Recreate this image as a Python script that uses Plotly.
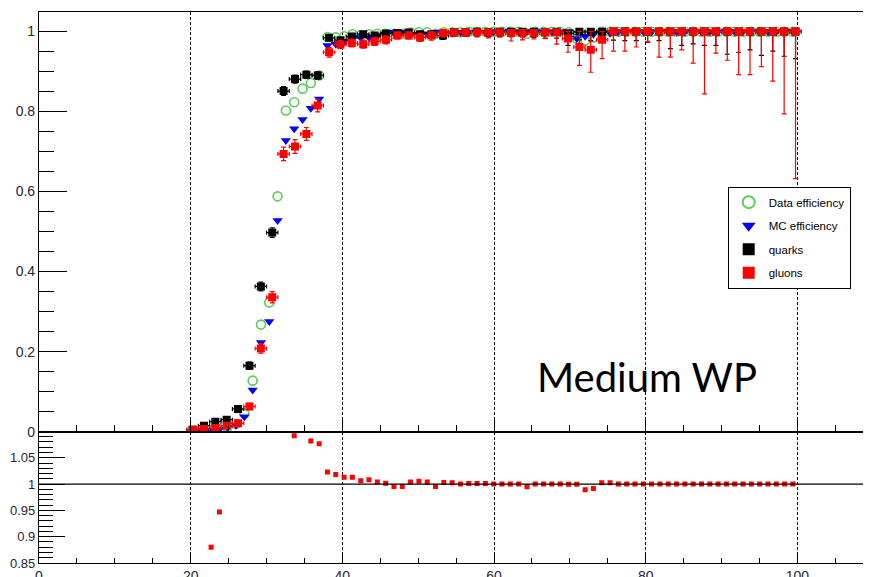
import plotly.graph_objects as go

# ---------------- data ----------------
# quarks / gluons binning (top panel)
x_qg = [20.25, 21.75, 23.25, 24.75, 26.25, 27.75, 29.25, 30.75, 32.25, 33.75,
        35.25, 36.75, 38.25, 39.75, 41.25, 42.75, 44.25, 45.75, 47.25, 48.75,
        50.25, 51.75, 53.25, 54.75, 56.25, 57.75, 59.25, 60.75, 62.25, 63.75,
        65.25, 66.75, 68.25, 69.75, 71.25, 72.75, 74.25, 75.75, 77.25, 78.75,
        80.25, 81.75, 83.25, 84.75, 86.25, 87.75, 89.25, 90.75, 92.25, 93.75,
        95.25, 96.75, 98.25, 99.75]

quarks = [0.005, 0.015, 0.025, 0.030, 0.057, 0.165, 0.363, 0.4975, 0.851, 0.881,
          0.892, 0.890, 0.984, 0.978, 0.987, 0.993, 0.990, 0.995, 0.996, 0.997,
          0.993, 0.993, 0.990, 0.998, 0.998, 0.999, 0.998, 0.999, 0.999, 0.999,
          0.999, 0.998, 0.999, 0.995, 0.999, 0.999, 0.999, 1.0, 1.0, 1.0,
          1.0, 1.0, 1.0, 1.0, 1.0, 1.0, 1.0, 1.0, 1.0, 1.0,
          1.0, 1.0, 1.0, 1.0]
quarks_err = [0.004, 0.005, 0.006, 0.006, 0.007, 0.009, 0.011, 0.012, 0.011, 0.010,
              0.009, 0.009, 0.006, 0.006, 0.006, 0.006, 0.006, 0.007, 0.007, 0.007,
              0.008, 0.008, 0.010, 0.010, 0.010, 0.011, 0.011, 0.012, 0.012, 0.013,
              0.014, 0.015, 0.016, 0.030, 0.020, 0.022, 0.020, 0.022, 0.023, 0.023,
              0.027, 0.023, 0.043, 0.035, 0.031, 0.035, 0.035, 0.057, 0.052, 0.046,
              0.060, 0.049, 0.062, 0.068]

gluons = [0.005, 0.007, 0.009, 0.015, 0.021, 0.063, 0.208, 0.336, 0.694, 0.7125,
          0.744, 0.815, 0.948, 0.967, 0.971, 0.968, 0.975, 0.979, 0.990, 0.990,
          0.985, 0.990, 0.996, 0.998, 0.998, 0.998, 0.998, 0.998, 0.996, 0.996,
          0.996, 0.998, 0.998, 0.982, 0.961, 0.954, 0.979, 1.0, 1.0, 1.0,
          1.0, 1.0, 1.0, 1.0, 1.0, 1.0, 1.0, 1.0, 1.0, 1.0,
          1.0, 1.0, 1.0, 1.0]
gluons_err = [0.004, 0.004, 0.004, 0.005, 0.006, 0.008, 0.012, 0.014, 0.017, 0.017,
              0.016, 0.016, 0.012, 0.010, 0.010, 0.010, 0.010, 0.010, 0.009, 0.009,
              0.010, 0.012, 0.010, 0.010, 0.010, 0.012, 0.014, 0.012, 0.020, 0.017,
              0.015, 0.016, 0.030, 0.034, 0.046, 0.056, 0.047, 0.049, 0.049, 0.039,
              0.025, 0.064, 0.064, 0.046, 0.079, 0.156, 0.054, 0.072, 0.108, 0.108,
              0.088, 0.124, 0.206, 0.368]

# data / MC binning
x_eff = [20.50, 21.60, 22.69, 23.79, 24.88, 25.98, 27.08, 28.17, 29.27, 30.36,
         31.46, 32.55, 33.65, 34.75, 35.84, 36.94, 38.03, 39.13, 40.23, 41.32,
         42.42, 43.51, 44.61, 45.71, 46.80, 47.90, 48.99, 50.09, 51.19, 52.28,
         53.38, 54.47, 55.57, 56.66, 57.76, 58.86, 59.95, 61.05, 62.14, 63.24,
         64.34, 65.43, 66.53, 67.62, 68.72, 69.82, 70.91, 72.01, 73.10, 74.20,
         75.30, 76.39, 77.49, 78.58, 79.68, 80.77, 81.87, 82.97, 84.06, 85.16,
         86.25, 87.35, 88.45, 89.54, 90.64, 91.73, 92.83, 93.93, 95.02, 96.12,
         97.21, 98.31, 99.40]

data_eff = [0.002, 0.003, 0.0035, 0.0057, 0.012, 0.020, 0.045, 0.1275, 0.2675, 0.323,
            0.588, 0.8025, 0.823, 0.857, 0.871, 0.890, 0.986, 0.985, 0.988, 0.993,
            0.991, 0.993, 0.994, 0.994, 0.994, 0.994, 0.997, 0.998, 0.998, 0.994,
            0.998, 0.998, 0.998, 0.999, 0.999, 0.999, 0.999, 0.999, 0.999, 0.999,
            0.994, 0.999, 0.999, 0.999, 0.999, 0.998, 0.982, 0.977, 0.985, 0.999,
            0.999, 0.999, 0.999, 0.999, 0.999, 0.999, 0.999, 0.999, 0.999, 0.999,
            0.999, 0.999, 0.999, 0.999, 0.999, 0.999, 0.999, 0.999, 0.999, 0.999,
            0.999, 0.999, 0.999]

mc_eff = [0.001, 0.002, 0.004, 0.006, 0.010, 0.016, 0.0375, 0.104, 0.223, 0.275,
          0.5275, 0.7275, 0.757, 0.780, 0.808, 0.831, 0.965, 0.968, 0.975, 0.980,
          0.985, 0.985, 0.990, 0.993, 0.998, 0.998, 0.993, 0.992, 0.994, 0.998,
          0.995, 0.996, 0.998, 0.998, 0.998, 0.998, 0.999, 0.999, 0.999, 0.999,
          0.999, 0.999, 0.999, 0.999, 0.999, 0.999, 0.982, 0.988, 0.993, 0.996,
          0.996, 0.999, 0.999, 0.999, 0.999, 0.999, 0.999, 0.999, 0.999, 0.999,
          0.999, 0.999, 0.999, 0.999, 0.999, 0.999, 0.999, 0.999, 0.999, 0.999,
          0.999, 0.999, 0.999]

ratio = [None, None, 0.880, 0.947, None, None, None, None, None, None,
         None, None, 1.092, None, 1.082, 1.0765, 1.0228, 1.018, 1.013, 1.013,
         1.0063, 1.008, 1.0038, 1.0015, 0.9955, 0.9955, 1.0038, 1.0055, 1.0038, 0.9955,
         1.003, 1.0025, 1.0003, 1.0012, 1.0012, 1.0012, 1.0, 1.0, 1.0, 1.0,
         0.995, 1.0, 1.0, 1.0, 1.0, 0.9995, 0.9995, 0.989, 0.9917, 1.0025,
         1.0025, 1.0, 1.0, 1.0, 1.0, 1.0, 1.0, 1.0, 1.0, 1.0,
         1.0, 1.0, 1.0, 1.0, 1.0, 1.0, 1.0, 1.0, 1.0, 1.0,
         1.0, 1.0, 1.0]

x_half_bin = 0.75

# efficiencies cannot exceed 1: clamp the upper error bars
quarks_up = [min(e, 1.0 - v) for v, e in zip(quarks, quarks_err)]
gluons_up = [min(e, 1.0 - v) for v, e in zip(gluons, gluons_err)]

# ---------------- styles ----------------
GREEN = "#5ccc5c"
BLUE = "#0000ff"
RED = "#ff0000"
BLACK = "#000000"
FONT = "Liberation Sans, Arial, sans-serif"
TICKCOL = "#262633"

fig = go.Figure()

fig.add_trace(go.Scatter(
    x=x_eff, y=data_eff, mode="markers", name="Data efficiency",
    legendgroup="a",
    marker=dict(symbol="circle-open", size=9, color=GREEN, line=dict(width=1.6, color=GREEN)),
    xaxis="x", yaxis="y"))
fig.add_trace(go.Scatter(
    x=x_eff, y=mc_eff, mode="markers", name="MC efficiency",
    legendgroup="b",
    marker=dict(symbol="triangle-down", size=9, color=BLUE),
    xaxis="x", yaxis="y"))
fig.add_trace(go.Scatter(
    x=x_qg, y=quarks, mode="markers", name="quarks",
    legendgroup="c",
    marker=dict(symbol="square", size=8, color=BLACK),
    error_y=dict(type="data", symmetric=False, array=quarks_up, arrayminus=quarks_err,
                 color=BLACK, thickness=1.2, width=2.5),
    error_x=dict(type="constant", value=x_half_bin, color=BLACK, thickness=1.2, width=2),
    xaxis="x", yaxis="y"))
fig.add_trace(go.Scatter(
    x=x_qg, y=gluons, mode="markers", name="gluons",
    legendgroup="d",
    marker=dict(symbol="square", size=8, color=RED),
    error_y=dict(type="data", symmetric=False, array=gluons_up, arrayminus=gluons_err,
                 color=RED, thickness=1.2, width=2.5),
    error_x=dict(type="constant", value=x_half_bin, color=RED, thickness=1.2, width=2),
    xaxis="x", yaxis="y"))
fig.add_trace(go.Scatter(
    x=x_eff, y=ratio, mode="markers", name="ratio", showlegend=False,
    marker=dict(symbol="square", size=5, color=RED),
    xaxis="x2", yaxis="y2"))

XMAX = 109.7
SPLIT = 0.2383

common_x = dict(
    range=[0, XMAX], dtick=20, tick0=0,
    showgrid=True, gridcolor=BLACK, gridwidth=1, griddash="3px,2px",
    showline=True, linecolor=BLACK, linewidth=1.2, mirror=True,
    zeroline=False, ticks="inside", tickcolor=BLACK, tickwidth=1,
    automargin=False,
)

# the page body adds an 8 px offset; the figure is sized to fill the rest of the window
fig.update_layout(
    width=863, height=569,
    margin=dict(l=31, r=0, t=4, b=14),
    paper_bgcolor="white", plot_bgcolor="white",
    font=dict(family=FONT, color=TICKCOL, size=14),
    showlegend=True,
    legend=dict(
        x=0.9756, y=0.683, xanchor="right", yanchor="top",
        bgcolor="white", bordercolor=BLACK, borderwidth=1,
        font=dict(family=FONT, size=11.5, color=BLACK),
        tracegroupgap=4.5, itemsizing="constant",
    ),
    xaxis=dict(
        **common_x, anchor="y", domain=[0, 1], showticklabels=False,
        ticklen=13, minor=dict(ticks="inside", dtick=5, ticklen=7, tickcolor=BLACK, showgrid=False),
    ),
    yaxis=dict(
        domain=[SPLIT, 1], anchor="x", range=[0, 1.0485],
        tickmode="array", tickvals=[0, 0.2, 0.4, 0.6, 0.8, 1.0],
        ticktext=["0", "0.2", "0.4", "0.6", "0.8", "1"],
        showgrid=False, zeroline=False,
        showline=True, linecolor=BLACK, linewidth=1.2, mirror=True,
        ticks="inside", ticklen=28, tickcolor=BLACK,
        minor=dict(ticks="inside", dtick=0.05, tick0=0, ticklen=15, tickcolor=BLACK, showgrid=False),
        tickfont=dict(size=14, family=FONT, color=TICKCOL),
        automargin=False,
    ),
    xaxis2=dict(
        **common_x, anchor="y2", domain=[0, 1], matches="x", showticklabels=True,
        ticklen=10, minor=dict(ticks="inside", dtick=5, ticklen=5, tickcolor=BLACK, showgrid=False),
        tickfont=dict(size=14, family=FONT, color=TICKCOL),
    ),
    yaxis2=dict(
        domain=[0, SPLIT], anchor="x2", range=[0.85, 1.0995],
        tickmode="array", tickvals=[0.85, 0.9, 0.95, 1.0, 1.05],
        ticktext=["0.85", "0.9", "0.95", "1", "1.05"],
        showgrid=False, zeroline=False,
        showline=True, linecolor=BLACK, linewidth=1.2, mirror=True,
        ticks="inside", ticklen=26, tickcolor=BLACK,
        minor=dict(ticks="inside", dtick=0.01, tick0=0.85, ticklen=14, tickcolor=BLACK, showgrid=False),
        tickfont=dict(size=13, family=FONT, color=TICKCOL),
        automargin=False,
    ),
    shapes=[
        dict(type="line", xref="x2 domain", yref="y2", x0=0, x1=1, y0=1, y1=1,
             line=dict(color=BLACK, width=1.3)),
    ],
    annotations=[
        dict(text="Medium WP", xref="paper", yref="paper", x=0.5958, y=0.3376,
             xanchor="left", yanchor="middle", showarrow=False,
             font=dict(family="Lato, sans-serif", size=40, color=BLACK)),
    ],
)

fig.write_html("out.html")
